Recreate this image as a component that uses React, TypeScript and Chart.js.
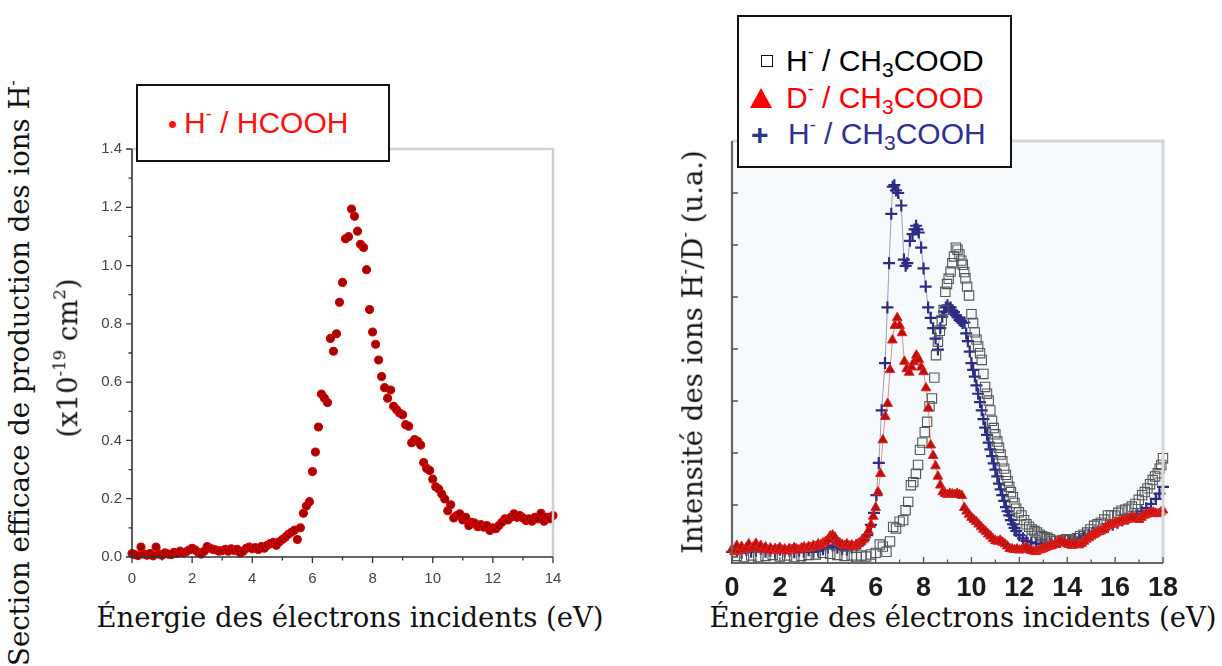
import React, { useEffect, useRef } from "react";
import { Chart, registerables } from "chart.js";

Chart.register(...registerables);

// ---------- Left panel : H- / HCOOH ----------
const hcoohX = [
  0.0, 0.1, 0.2, 0.3, 0.4, 0.5, 0.6, 0.7, 0.8, 0.9,
  1.0, 1.1, 1.2, 1.3, 1.4, 1.5, 1.6, 1.7, 1.8, 1.9,
  2.0, 2.1, 2.2, 2.3, 2.4, 2.5, 2.6, 2.7, 2.8, 2.9,
  3.0, 3.1, 3.2, 3.3, 3.4, 3.5, 3.6, 3.7, 3.8, 3.9,
  4.0, 4.1, 4.2, 4.3, 4.4, 4.5, 4.6, 4.7, 4.8, 4.9,
  5.0, 5.1, 5.2, 5.3, 5.4, 5.5, 5.6, 5.7, 5.8, 5.9,
  6.0, 6.1, 6.2, 6.3, 6.4, 6.5, 6.6, 6.7, 6.8, 6.9,
  7.0, 7.1, 7.2, 7.3, 7.4, 7.5, 7.6, 7.7, 7.8, 7.9,
  8.0, 8.1, 8.2, 8.3, 8.4, 8.5, 8.6, 8.7, 8.8, 8.9,
  9.0, 9.1, 9.2, 9.3, 9.4, 9.5, 9.6, 9.7, 9.8, 9.9,
  10.0, 10.1, 10.2, 10.3, 10.4, 10.5, 10.6, 10.7, 10.8, 10.9,
  11.0, 11.1, 11.2, 11.3, 11.4, 11.5, 11.6, 11.7, 11.8, 11.9,
  12.0, 12.1, 12.2, 12.3, 12.4, 12.5, 12.6, 12.7, 12.8, 12.9,
  13.0, 13.1, 13.2, 13.3, 13.4, 13.5, 13.6, 13.7, 13.8, 13.9, 14.0,
];
const hcoohY = [
  0.012, 0.008, 0.005, 0.034, 0.010, 0.006, 0.012, 0.004, 0.034, 0.010,
  0.006, 0.014, 0.010, 0.008, 0.016, 0.012, 0.020, 0.014, 0.018, 0.024,
  0.030, 0.024, 0.016, 0.010, 0.020, 0.036, 0.030, 0.026, 0.024, 0.020,
  0.022, 0.026, 0.020, 0.028, 0.022, 0.026, 0.014, 0.020, 0.030, 0.034,
  0.028, 0.032, 0.026, 0.036, 0.030, 0.040, 0.046, 0.050, 0.040, 0.052,
  0.060, 0.068, 0.078, 0.085, 0.092, 0.060, 0.100, 0.150, 0.175, 0.190,
  0.293, 0.360, 0.446, 0.559, 0.545, 0.530, 0.750, 0.706, 0.766, 0.874,
  0.942, 1.092, 1.099, 1.194, 1.169, 1.118, 1.073, 1.062, 0.986, 0.849,
  0.772, 0.730, 0.676, 0.619, 0.581, 0.545, 0.573, 0.517, 0.505, 0.494,
  0.488, 0.454, 0.449, 0.392, 0.403, 0.397, 0.384, 0.324, 0.304, 0.297,
  0.267, 0.241, 0.233, 0.216, 0.199, 0.159, 0.179, 0.134, 0.142, 0.148,
  0.127, 0.136, 0.108, 0.119, 0.116, 0.104, 0.111, 0.102, 0.108, 0.091,
  0.100, 0.097, 0.108, 0.119, 0.131, 0.127, 0.136, 0.148, 0.136, 0.142,
  0.134, 0.125, 0.131, 0.123, 0.136, 0.131, 0.150, 0.123, 0.136, 0.131, 0.142,
];
const leftXMajor = [0, 2, 4, 6, 8, 10, 12, 14];
const leftXMinor = [1, 3, 5, 7, 9, 11, 13];
const leftYMajor = [0, 0.2, 0.4, 0.6, 0.8, 1.0, 1.2, 1.4];
const leftYMinor = [0.1, 0.3, 0.5, 0.7, 0.9, 1.1, 1.3];

// ---------- Right panel ----------
// D- / CH3COOD (triangles)
const dX = [
  0.0, 0.1, 0.2, 0.3, 0.4, 0.5, 0.6, 0.7, 0.8, 0.9,
  1.0, 1.1, 1.2, 1.3, 1.4, 1.5, 1.6, 1.7, 1.8, 1.9,
  2.0, 2.1, 2.2, 2.3, 2.4, 2.5, 2.6, 2.7, 2.8, 2.9,
  3.0, 3.1, 3.2, 3.3, 3.4, 3.5, 3.6, 3.7, 3.8, 3.9,
  4.0, 4.1, 4.2, 4.3, 4.4, 4.5, 4.6, 4.7, 4.8, 4.9,
  5.0, 5.1, 5.2, 5.3, 5.4, 5.5, 5.6, 5.7, 5.8, 5.9,
  6.0, 6.1, 6.2, 6.3, 6.4, 6.5, 6.6, 6.7, 6.8, 6.9,
  7.0, 7.1, 7.2, 7.3, 7.4, 7.5, 7.6, 7.7, 7.8, 7.9,
  8.0, 8.1, 8.2, 8.3, 8.4, 8.5, 8.6, 8.7, 8.8, 8.9,
  9.0, 9.1, 9.2, 9.3, 9.4, 9.5, 9.6, 9.7, 9.8, 9.9,
  10.0, 10.1, 10.2, 10.3, 10.4, 10.5, 10.6, 10.7, 10.8, 10.9,
  11.0, 11.1, 11.2, 11.3, 11.4, 11.5, 11.6, 11.7, 11.8, 11.9,
  12.0, 12.1, 12.2, 12.3, 12.4, 12.5, 12.6, 12.7, 12.8, 12.9,
  13.0, 13.1, 13.2, 13.3, 13.4, 13.5, 13.6, 13.7, 13.8, 13.9,
  14.0, 14.1, 14.2, 14.3, 14.4, 14.5, 14.6, 14.7, 14.8, 14.9,
  15.0, 15.1, 15.2, 15.3, 15.4, 15.5, 15.6, 15.7, 15.8, 15.9,
  16.0, 16.1, 16.2, 16.3, 16.4, 16.5, 16.6, 16.7, 16.8, 16.9,
  17.0, 17.1, 17.2, 17.3, 17.4, 17.5, 17.6, 17.7, 17.8, 17.9, 18.0,
];
const dY = [
  0.15, 0.10, 0.22, 0.12, 0.20, 0.14, 0.18, 0.25, 0.16, 0.20,
  0.26, 0.18, 0.22, 0.15, 0.19, 0.13, 0.17, 0.12, 0.16, 0.14,
  0.18, 0.13, 0.15, 0.11, 0.16, 0.14, 0.18, 0.15, 0.13, 0.17,
  0.19, 0.16, 0.20, 0.18, 0.22, 0.20, 0.25, 0.23, 0.27, 0.29,
  0.33, 0.40, 0.42, 0.38, 0.30, 0.27, 0.24, 0.22, 0.25, 0.21,
  0.23, 0.20, 0.24, 0.26, 0.30, 0.34, 0.42, 0.50, 0.62, 0.78,
  0.95, 1.25, 1.60, 2.25, 2.70, 2.95, 3.60, 4.17, 4.45, 4.60,
  4.45, 4.31, 3.76, 3.62, 3.55, 3.65, 3.75, 3.88, 3.80, 3.65,
  3.56, 3.25, 2.86, 2.15, 1.95, 1.75, 1.55, 1.38, 1.25, 1.22,
  1.20, 1.22, 1.21, 1.20, 1.22, 1.20, 1.18, 0.95, 0.88, 0.82,
  0.76, 0.72, 0.68, 0.63, 0.58, 0.53, 0.49, 0.44, 0.40, 0.35,
  0.31, 0.30, 0.32, 0.28, 0.25, 0.21, 0.16, 0.15, 0.14, 0.15,
  0.13, 0.14, 0.17, 0.18, 0.15, 0.12, 0.11, 0.10, 0.13, 0.14,
  0.16, 0.18, 0.20, 0.21, 0.23, 0.24, 0.28, 0.31, 0.29, 0.27,
  0.25, 0.24, 0.22, 0.25, 0.24, 0.23, 0.26, 0.30, 0.34, 0.37,
  0.40, 0.43, 0.46, 0.48, 0.50, 0.52, 0.57, 0.60, 0.62, 0.63,
  0.65, 0.66, 0.68, 0.70, 0.69, 0.72, 0.74, 0.76, 0.75, 0.73,
  0.72, 0.76, 0.80, 0.82, 0.83, 0.85, 0.86, 0.84, 0.83, 0.86, 0.90,
];

// H- / CH3COOH (plus)
const hAcidX = [
  0.0, 0.2, 0.4, 0.6, 0.8, 1.0, 1.2, 1.4, 1.6, 1.8,
  2.0, 2.2, 2.4, 2.6, 2.8, 3.0, 3.2, 3.4, 3.6, 3.8,
  4.0, 4.2, 4.4, 4.6, 4.8, 5.0, 5.2, 5.35, 5.5, 5.65,
  5.8, 5.93, 6.03, 6.13, 6.25, 6.39, 6.49, 6.56, 6.65, 6.71,
  6.78, 6.85, 6.94, 7.07, 7.18, 7.25, 7.32, 7.43, 7.54, 7.62,
  7.69, 7.75, 7.8, 7.9, 8.0, 8.09, 8.19, 8.3, 8.4, 8.5,
  8.6, 8.7, 8.78, 8.86, 8.93, 9.0, 9.07, 9.13, 9.2, 9.27,
  9.35, 9.42, 9.5, 9.56, 9.63, 9.71, 9.78, 9.85, 9.93, 10.0,
  10.07, 10.14, 10.21, 10.28, 10.36, 10.43, 10.5, 10.57, 10.65, 10.72,
  10.79, 10.86, 10.93, 11.0, 11.08, 11.15, 11.22, 11.29, 11.37, 11.44,
  11.51, 11.58, 11.65, 11.73, 11.8, 11.87, 12.0, 12.15, 12.3, 12.5,
  12.7, 12.9, 13.1, 13.3, 13.5, 13.7, 13.9, 14.1, 14.3, 14.5,
  14.7, 14.9, 15.1, 15.3, 15.5, 15.7, 15.9, 16.1, 16.3, 16.5,
  16.7, 16.9, 17.1, 17.3, 17.5, 17.7, 17.85, 18.0,
];
const hAcidY = [
  0.10, 0.12, 0.08, 0.14, 0.10, 0.12, 0.16, 0.10, 0.12, 0.08,
  0.14, 0.10, 0.12, 0.09, 0.12, 0.10, 0.13, 0.10, 0.12, 0.15,
  0.18, 0.22, 0.18, 0.15, 0.14, 0.18, 0.22, 0.26, 0.33, 0.42,
  0.62, 0.85, 1.19, 1.81, 2.82, 3.73, 4.80, 5.65, 6.60, 7.12,
  7.15, 7.05, 7.00, 6.76, 5.72, 5.60, 5.65, 6.08, 6.21, 6.30,
  6.37, 6.30, 6.24, 5.95, 5.55, 5.20, 4.80, 4.60, 4.40, 4.20,
  3.99, 4.40, 4.62, 4.72, 4.80, 4.84, 4.78, 4.80, 4.74, 4.71,
  4.65, 4.61, 4.56, 4.54, 4.50, 4.51, 4.30, 4.15, 3.95, 3.73,
  3.60, 3.47, 3.30, 3.14, 2.98, 2.82, 2.65, 2.49, 2.35, 2.20,
  2.07, 1.94, 1.80, 1.68, 1.55, 1.41, 1.30, 1.19, 1.08, 0.96,
  0.88, 0.80, 0.71, 0.63, 0.56, 0.50, 0.42, 0.36, 0.31, 0.28,
  0.26, 0.25, 0.24, 0.26, 0.27, 0.29, 0.30, 0.32, 0.34, 0.36,
  0.40, 0.43, 0.47, 0.50, 0.54, 0.58, 0.62, 0.66, 0.70, 0.74,
  0.78, 0.83, 0.88, 0.94, 1.02, 1.12, 1.22, 1.35,
];

// H- / CH3COOD (open squares)
const hDeutX = [
  0.2, 0.5, 0.8, 1.1, 1.4, 1.7, 2.0, 2.3, 2.6, 2.9,
  3.2, 3.5, 3.8, 4.1, 4.4, 4.7, 5.0, 5.2, 5.4, 5.6,
  5.8, 6.0, 6.17, 6.3, 6.45, 6.6, 6.73, 6.85, 7.0, 7.15,
  7.25, 7.36, 7.47, 7.57, 7.68, 7.77, 7.85, 7.95, 8.05, 8.15,
  8.25, 8.35, 8.45, 8.52, 8.6, 8.68, 8.76, 8.84, 8.91, 8.98,
  9.05, 9.13, 9.2, 9.27, 9.35, 9.42, 9.5, 9.58, 9.64, 9.7,
  9.75, 9.82, 9.9, 10.0, 10.07, 10.14, 10.21, 10.28, 10.36, 10.43,
  10.5, 10.57, 10.65, 10.72, 10.79, 10.86, 10.93, 11.0, 11.08, 11.15,
  11.22, 11.29, 11.37, 11.44, 11.51, 11.58, 11.65, 11.73, 11.8, 11.87,
  11.98, 12.09, 12.2, 12.3, 12.41, 12.52, 12.63, 12.74, 12.85, 12.95,
  13.06, 13.17, 13.28, 13.39, 13.53, 13.67, 13.82, 13.96, 14.1, 14.25,
  14.4, 14.54, 14.68, 14.83, 14.97, 15.12, 15.26, 15.4, 15.55, 15.7,
  15.84, 15.98, 16.13, 16.27, 16.42, 16.56, 16.7, 16.85, 16.99, 17.13,
  17.24, 17.35, 17.46, 17.57, 17.67, 17.78, 17.86, 17.93, 18.0,
];
const hDeutY = [
  0.02, 0.0, 0.03, 0.0, 0.02, 0.04, 0.01, 0.03, 0.0, 0.02,
  0.04, 0.05, 0.08, 0.06, 0.04, 0.02, 0.03, 0.0, 0.03, 0.01,
  0.05, 0.08, 0.24, 0.20, 0.10, 0.30, 0.58, 0.55, 0.68, 0.71,
  0.90, 1.06, 1.38, 1.44, 1.60, 1.77, 2.06, 2.20, 2.40, 2.60,
  2.90, 3.05, 3.45, 3.88, 4.14, 4.35, 4.55, 4.75, 5.10, 5.25,
  5.35, 5.49, 5.65, 5.78, 5.95, 5.91, 5.82, 5.70, 5.62, 5.48,
  5.36, 5.20, 5.03, 4.67, 4.50, 4.32, 4.18, 4.05, 3.92, 3.79,
  3.52, 3.27, 3.14, 3.01, 2.82, 2.62, 2.48, 2.36, 2.22, 2.10,
  1.97, 1.84, 1.70, 1.58, 1.46, 1.35, 1.25, 1.15, 1.04, 0.93,
  0.86, 0.80, 0.71, 0.63, 0.58, 0.53, 0.50, 0.47, 0.43, 0.40,
  0.38, 0.37, 0.34, 0.31, 0.31, 0.31, 0.33, 0.34, 0.32, 0.31,
  0.36, 0.40, 0.43, 0.47, 0.53, 0.60, 0.63, 0.66, 0.72, 0.80,
  0.80, 0.80, 0.85, 0.89, 0.91, 0.93, 0.97, 1.02, 1.10, 1.19,
  1.25, 1.32, 1.40, 1.48, 1.55, 1.61, 1.70, 1.77, 1.90,
];
const rightXMajor = [0, 2, 4, 6, 8, 10, 12, 14, 16, 18];
const rightXMinor = [1, 3, 5, 7, 9, 11, 13, 15, 17];
const rightYMajor = [0, 1, 2, 3, 4, 5, 6, 7];

const sansFont = "'Liberation Sans', Arial, Helvetica, sans-serif";
const serifFont = "'DejaVu Serif', 'Liberation Serif', serif";

type FrameCfg = {
  bg: string;
  axisColor: string;
  axisWidth: number;
  frameColor: string;
  frameWidth: number;
  xMajor: number[];
  xMinor: number[];
  yMajor: number[];
  yMinor: number[];
  majorLen: number;
  minorLen: number;
  inward: boolean;
  tickColor: string;
};

function framePlugin(cfg: FrameCfg) {
  return {
    id: "frame",
    beforeDatasetsDraw(chart: any) {
      const { ctx, chartArea: a } = chart;
      ctx.save();
      ctx.fillStyle = cfg.bg;
      ctx.fillRect(a.left, a.top, a.right - a.left, a.bottom - a.top);
      ctx.restore();
    },
    afterDraw(chart: any) {
      const { ctx, chartArea: a, scales } = chart;
      const xs = scales.x;
      const ys = scales.y;
      ctx.save();
      ctx.strokeStyle = cfg.frameColor;
      ctx.lineWidth = cfg.frameWidth;
      ctx.beginPath();
      ctx.moveTo(a.left, a.top);
      ctx.lineTo(a.right, a.top);
      ctx.lineTo(a.right, a.bottom);
      ctx.stroke();
      ctx.strokeStyle = cfg.axisColor;
      ctx.lineWidth = cfg.axisWidth;
      ctx.beginPath();
      ctx.moveTo(a.left, a.top);
      ctx.lineTo(a.left, a.bottom);
      ctx.lineTo(a.right, a.bottom);
      ctx.stroke();
      const s = cfg.inward ? -1 : 1;
      ctx.strokeStyle = cfg.tickColor;
      ctx.lineWidth = 1.3;
      ctx.beginPath();
      const xt = (vals: number[], len: number) => {
        vals.forEach((v) => {
          const px = xs.getPixelForValue(v);
          ctx.moveTo(px, a.bottom);
          ctx.lineTo(px, a.bottom + s * len);
        });
      };
      const yt = (vals: number[], len: number) => {
        vals.forEach((v) => {
          const py = ys.getPixelForValue(v);
          ctx.moveTo(a.left, py);
          ctx.lineTo(a.left - s * len, py);
        });
      };
      xt(cfg.xMajor, cfg.majorLen);
      xt(cfg.xMinor, cfg.minorLen);
      yt(cfg.yMajor, cfg.majorLen);
      yt(cfg.yMinor, cfg.minorLen);
      ctx.stroke();
      ctx.restore();
    },
  };
}

const sup = (t: string) => (
  <sup style={{ fontSize: "0.6em", verticalAlign: "0.7em", lineHeight: 0 }}>{t}</sup>
);
const sub = (t: string) => (
  <sub style={{ fontSize: "0.7em", verticalAlign: "-0.3em", lineHeight: 0 }}>{t}</sub>
);

export default function App() {
  const leftRef = useRef<HTMLCanvasElement>(null);
  const rightRef = useRef<HTMLCanvasElement>(null);

  useEffect(() => {
    const left = new Chart(leftRef.current as HTMLCanvasElement, {
      type: "scatter",
      data: {
        datasets: [
          {
            label: "H- / HCOOH",
            data: hcoohX.map((x, i) => ({ x, y: hcoohY[i] })),
            pointStyle: "circle",
            pointRadius: 4,
            pointBackgroundColor: "#a00000",
            pointBorderColor: "#e00000",
            pointBorderWidth: 1.2,
            showLine: false,
            clip: 8,
          },
        ],
      },
      options: {
        animation: false,
        responsive: false,
        events: [],
        layout: { padding: { left: 0, right: 27, top: 16, bottom: 0 } },
        plugins: { legend: { display: false }, tooltip: { enabled: false } },
        scales: {
          x: {
            type: "linear",
            min: 0,
            max: 14,
            border: { display: false },
            grid: { display: false, drawTicks: false },
            ticks: {
              stepSize: 2,
              padding: 13,
              color: "#444",
              font: { family: sansFont, size: 15 },
              callback: (v: any) => String(v),
            },
            afterFit: (scale: any) => {
              scale.height = 43;
            },
          },
          y: {
            type: "linear",
            min: 0,
            max: 1.4,
            border: { display: false },
            grid: { display: false, drawTicks: false },
            ticks: {
              stepSize: 0.2,
              padding: 10,
              color: "#444",
              font: { family: sansFont, size: 15 },
              callback: (v: any) => Number(v).toFixed(1),
            },
            afterFit: (scale: any) => {
              scale.width = 52;
            },
          },
        },
      },
      plugins: [
        framePlugin({
          bg: "#ffffff",
          axisColor: "#333",
          axisWidth: 1.6,
          frameColor: "#cfcfcf",
          frameWidth: 2.5,
          xMajor: leftXMajor,
          xMinor: leftXMinor,
          yMajor: leftYMajor,
          yMinor: leftYMinor,
          majorLen: 6,
          minorLen: 3.5,
          inward: false,
          tickColor: "#333",
        }),
      ],
    } as any);

    const right = new Chart(rightRef.current as HTMLCanvasElement, {
      type: "scatter",
      data: {
        datasets: [
          {
            label: "D- / CH3COOD",
            data: dX.map((x, i) => ({ x, y: dY[i] })),
            pointStyle: "triangle",
            pointRadius: 5.6,
            pointBackgroundColor: "#b50f0f",
            pointBorderColor: "#e8201c",
            pointBorderWidth: 1,
            showLine: true,
            borderColor: "rgba(190,60,60,0.7)",
            borderWidth: 0.8,
            clip: 8,
          },
          {
            label: "H- / CH3COOD",
            data: hDeutX.map((x, i) => ({ x, y: hDeutY[i] })),
            pointStyle: "rect",
            pointRadius: 6.6,
            pointBackgroundColor: "rgba(255,255,255,0)",
            pointBorderColor: "#555",
            pointBorderWidth: 1.1,
            showLine: false,
            clip: 8,
          },
          {
            label: "H- / CH3COOH",
            data: hAcidX.map((x, i) => ({ x, y: hAcidY[i] })),
            pointStyle: "cross",
            pointRadius: 6,
            pointBorderColor: "#2c2c85",
            pointBorderWidth: 2.2,
            showLine: true,
            borderColor: "rgba(70,70,110,0.65)",
            borderWidth: 0.8,
            clip: 8,
          },
        ],
      },
      options: {
        animation: false,
        responsive: false,
        events: [],
        layout: { padding: { left: 0, right: 59, top: 21, bottom: 0 } },
        plugins: { legend: { display: false }, tooltip: { enabled: false } },
        scales: {
          x: {
            type: "linear",
            min: 0,
            max: 18,
            border: { display: false },
            grid: { display: false, drawTicks: false },
            ticks: {
              stepSize: 2,
              padding: 9,
              color: "#1c1c1c",
              font: { family: sansFont, size: 27, weight: "bold" },
              callback: (v: any) => String(v),
            },
            afterFit: (scale: any) => {
              scale.height = 37;
            },
          },
          y: {
            type: "linear",
            min: -0.115,
            max: 8,
            border: { display: false },
            grid: { display: false, drawTicks: false },
            ticks: { display: false, stepSize: 1 },
            afterFit: (scale: any) => {
              scale.width = 42;
            },
          },
        },
      },
      plugins: [
        framePlugin({
          bg: "#f6fafd",
          axisColor: "#666",
          axisWidth: 2.2,
          frameColor: "#d6d6d6",
          frameWidth: 3,
          xMajor: rightXMajor,
          xMinor: rightXMinor,
          yMajor: rightYMajor,
          yMinor: [],
          majorLen: 6,
          minorLen: 3.5,
          inward: true,
          tickColor: "#555",
        }),
      ],
    } as any);

    return () => {
      left.destroy();
      right.destroy();
    };
  }, []);

  const titleStyle: React.CSSProperties = {
    position: "absolute",
    fontFamily: serifFont,
    fontSize: 27.5,
    color: "#111",
    whiteSpace: "nowrap",
    lineHeight: 1,
  };

  return (
    <div
      style={{
        position: "absolute",
        left: 0,
        top: 0,
        width: 1222,
        height: 666,
        background: "#fff",
        overflow: "hidden",
      }}
    >
      <canvas
        ref={leftRef}
        width={500}
        height={470}
        style={{ position: "absolute", left: 80, top: 130, width: 500, height: 470 }}
      />
      <canvas
        ref={rightRef}
        width={532}
        height={480}
        style={{ position: "absolute", left: 690, top: 120, width: 532, height: 480 }}
      />

      {/* Left axis titles */}
      <div
        style={{
          ...titleStyle,
          left: 20,
          top: 373,
          transform: "translate(-50%, -50%) rotate(-90deg)",
        }}
      >
        Section efficace de production des ions H{sup("-")}
      </div>
      <div
        style={{
          ...titleStyle,
          left: 68,
          top: 358,
          transform: "translate(-50%, -50%) rotate(-90deg)",
        }}
      >
        (x10{sup("-19")} cm{sup("2")})
      </div>
      <div style={{ ...titleStyle, left: 350, top: 618, transform: "translate(-50%, -50%)" }}>
        Énergie des électrons incidents (eV)
      </div>

      {/* Right axis titles */}
      <div
        style={{
          ...titleStyle,
          left: 693,
          top: 352,
          transform: "translate(-50%, -50%) rotate(-90deg)",
        }}
      >
        Intensité des ions H{sup("-")}/D{sup("-")} (u.a.)
      </div>
      <div style={{ ...titleStyle, left: 963, top: 618, transform: "translate(-50%, -50%)" }}>
        Énergie des électrons incidents (eV)
      </div>

      {/* Left legend */}
      <div
        style={{
          position: "absolute",
          left: 136,
          top: 84,
          width: 254,
          height: 78,
          boxSizing: "border-box",
          border: "2px solid #111",
          background: "#fff",
        }}
      >
        <div
          style={{
            position: "absolute",
            left: 30,
            top: 37,
            transform: "translateY(-50%)",
            fontFamily: sansFont,
            fontSize: 30,
            color: "#ff1010",
            whiteSpace: "nowrap",
            lineHeight: 1,
          }}
        >
          <span style={{ fontSize: 26, marginRight: 7 }}>•</span>H{sup("-")} / HCOOH
        </div>
      </div>

      {/* Right legend */}
      <div
        style={{
          position: "absolute",
          left: 737,
          top: 15,
          width: 275,
          height: 153,
          boxSizing: "border-box",
          border: "2px solid #111",
          background: "#fff",
        }}
      >
        {/* square marker */}
        <div
          style={{
            position: "absolute",
            left: 22,
            top: 38,
            width: 12,
            height: 12,
            boxSizing: "border-box",
            border: "1.5px solid #111",
          }}
        />
        <div
          style={{
            position: "absolute",
            left: 47,
            top: 44,
            transform: "translateY(-50%)",
            fontFamily: sansFont,
            fontSize: 30,
            color: "#000",
            whiteSpace: "nowrap",
            lineHeight: 1,
          }}
        >
          H{sup("-")} / CH{sub("3")}COOD
        </div>
        {/* triangle marker */}
        <div
          style={{
            position: "absolute",
            left: 11,
            top: 71,
            width: 0,
            height: 0,
            borderLeft: "11.5px solid transparent",
            borderRight: "11.5px solid transparent",
            borderBottom: "20px solid #ff0000",
          }}
        />
        <div
          style={{
            position: "absolute",
            left: 47,
            top: 81,
            transform: "translateY(-50%)",
            fontFamily: sansFont,
            fontSize: 30,
            color: "#ff0000",
            whiteSpace: "nowrap",
            lineHeight: 1,
          }}
        >
          D{sup("-")} / CH{sub("3")}COOD
        </div>
        {/* plus marker */}
        <div
          style={{
            position: "absolute",
            left: 12,
            top: 118,
            transform: "translateY(-50%)",
            fontFamily: sansFont,
            fontSize: 30,
            fontWeight: "bold",
            color: "#2e3192",
            lineHeight: 1,
          }}
        >
          +
        </div>
        <div
          style={{
            position: "absolute",
            left: 49,
            top: 117,
            transform: "translateY(-50%)",
            fontFamily: sansFont,
            fontSize: 30,
            color: "#2e3192",
            whiteSpace: "nowrap",
            lineHeight: 1,
          }}
        >
          H{sup("-")} / CH{sub("3")}COOH
        </div>
      </div>
    </div>
  );
}
